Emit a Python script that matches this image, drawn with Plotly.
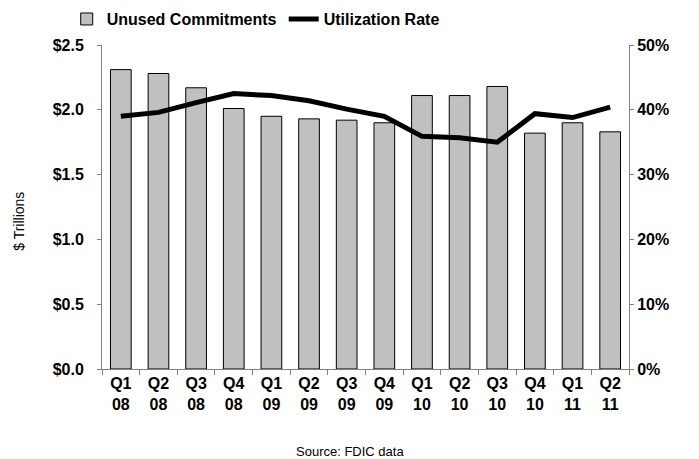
import plotly.graph_objects as go

quarters = ["Q1<br>08", "Q2<br>08", "Q3<br>08", "Q4<br>08",
            "Q1<br>09", "Q2<br>09", "Q3<br>09", "Q4<br>09",
            "Q1<br>10", "Q2<br>10", "Q3<br>10", "Q4<br>10",
            "Q1<br>11", "Q2<br>11"]
unused_commitments = [2.31, 2.28, 2.17, 2.01, 1.95, 1.93, 1.92, 1.90,
                      2.11, 2.11, 2.18, 1.82, 1.90, 1.83]
utilization_rate = [39.0, 39.6, 41.1, 42.5, 42.2, 41.4, 40.1, 39.0,
                    35.9, 35.7, 35.0, 39.4, 38.8, 40.4]

fonte = "Liberation Sans, Arial, sans-serif"

fig = go.Figure()

fig.add_trace(go.Bar(
    x=quarters, y=unused_commitments, name="Unused Commitments",
    marker=dict(color="#c0c0c0", line=dict(color="black", width=1)),
    yaxis="y"
))
fig.add_trace(go.Scatter(
    x=quarters, y=utilization_rate, name="Utilization Rate",
    mode="lines", line=dict(color="black", width=5),
    yaxis="y2"
))

# a pagina tem 8px de margem no body, compensado aqui
fig.update_layout(
    width=699, height=459,
    margin=dict(l=94, r=78, t=37, b=98, autoexpand=False),
    plot_bgcolor="white", paper_bgcolor="white",
    font=dict(family=fonte, color="black", size=15),
    bargap=0.45,
    showlegend=True,
    hovermode=False,
    legend=dict(
        orientation="h", xref="container", yref="paper",
        x=0.084, y=1.08, xanchor="left", yanchor="middle",
        font=dict(family=fonte, size=16, color="black", weight="bold"),
        itemwidth=30, entrywidth=172, tracegroupgap=0,
        bgcolor="rgba(0,0,0,0)",
    ),
    xaxis=dict(
        type="category", showline=True, linecolor="#808080", linewidth=1,
        ticks="outside", tickson="boundaries", ticklen=5, tickcolor="#808080",
        tickfont=dict(family=fonte, size=16, weight="bold"),
        showgrid=False, zeroline=False,
    ),
    yaxis=dict(
        range=[0, 2.5], dtick=0.5, tickformat="$.1f",
        showline=True, linecolor="#808080", linewidth=1,
        ticks="outside", ticklen=4, tickcolor="#808080", ticklabelstandoff=10,
        tickfont=dict(family=fonte, size=16, weight="bold"),
        showgrid=False, zeroline=False,
    ),
    yaxis2=dict(
        range=[0, 50], dtick=10, ticksuffix="%", overlaying="y", side="right",
        showline=True, linecolor="#808080", linewidth=1,
        ticks="outside", ticklen=4, tickcolor="#808080",
        tickfont=dict(family=fonte, size=16, weight="bold"),
        showgrid=False, zeroline=False,
    ),
    annotations=[
        dict(text="$ Trillions", xref="paper", yref="paper",
             x=-0.159, y=0.455, xanchor="center", yanchor="middle",
             textangle=-90, showarrow=False,
             font=dict(family=fonte, size=14)),
        dict(text="Source: FDIC data", xref="paper", yref="paper",
             x=0.47, y=-0.256, xanchor="center", yanchor="middle",
             showarrow=False, font=dict(family=fonte, size=13)),
    ],
)

fig.write_html("out.html")
